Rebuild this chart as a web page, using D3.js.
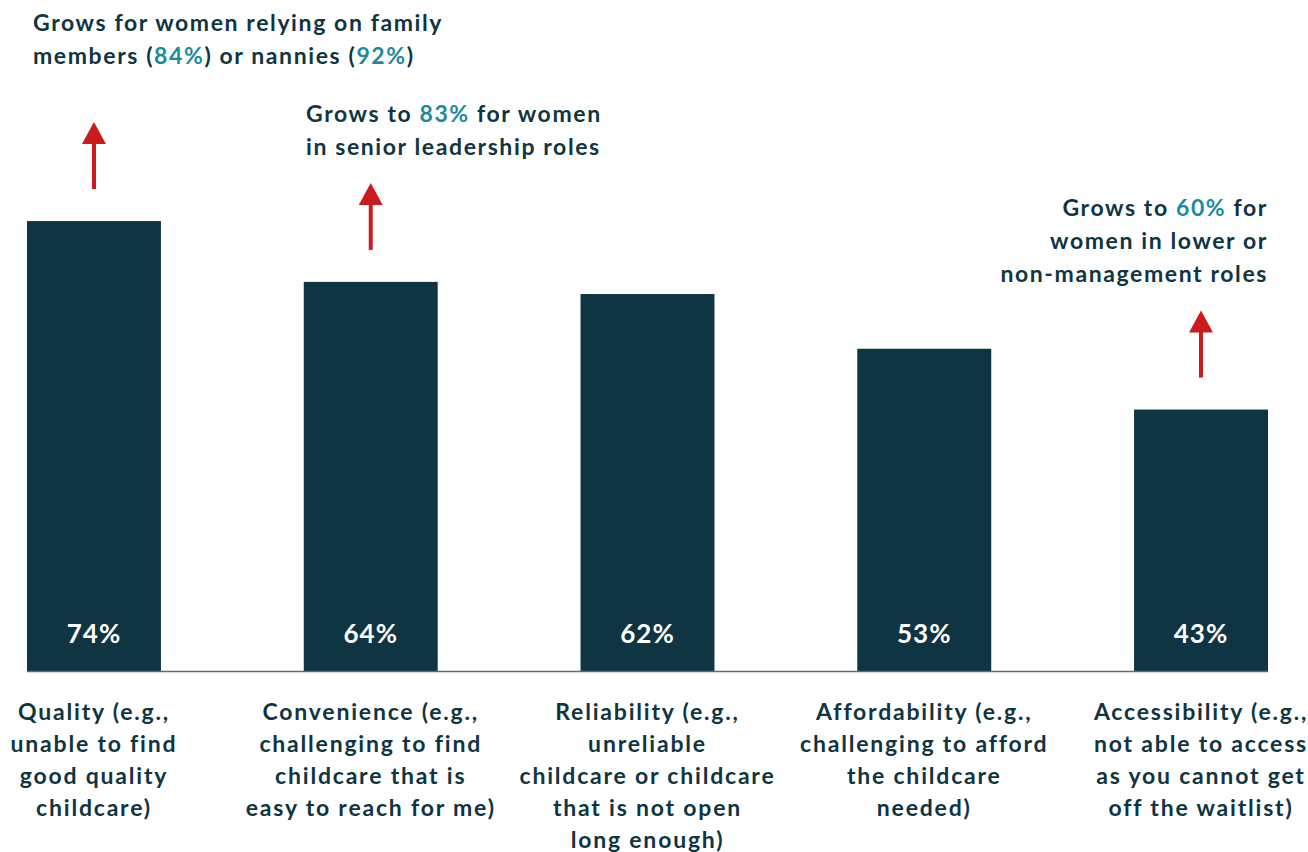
<!DOCTYPE html>
<html><head><meta charset="utf-8">
<script src="https://cdn.jsdelivr.net/npm/d3@7"></script>
<style>
html,body{margin:0;padding:0;background:#fff;}
svg{display:block;font-family:Lato,"Open Sans",sans-serif;}
</style></head>
<body>
<script>
const categories = ["Quality","Convenience","Reliability","Affordability","Accessibility"];
const values = [74, 64, 62, 53, 43];
const valueLabels = ["74%","64%","62%","53%","43%"];
const categoryLabels = [
  ["Quality (e.g.,","unable to find","good quality","childcare)"],
  ["Convenience (e.g.,","challenging to find","childcare that is","easy to reach for me)"],
  ["Reliability (e.g.,","unreliable","childcare or childcare","that is not open","long enough)"],
  ["Affordability (e.g.,","challenging to afford","the childcare","needed)"],
  ["Accessibility (e.g.,","not able to access","as you cannot get","off the waitlist)"]
];
// annotations: category, lines of [text, highlight?] segments
const annotationCats = ["Quality","Convenience","Accessibility"];
const annotationLines = [
  [[["Grows for women relying on family",0]],[["members (",0],["84%",1],[") or nannies (",0],["92%",1],[")",0]]],
  [[["Grows to ",0],["83%",1],[" for women",0]],[["in senior leadership roles",0]]],
  [[["Grows to ",0],["60%",1],[" for",0]],[["women in lower or",0]],[["non-management roles",0]]]
];

const W = 1308, H = 852;
const dark = "#0f3542", teal = "#1d8a9b", red = "#cc1b1f";
const svg = d3.select("body").append("svg").attr("width", W).attr("height", H);

const x = d3.scaleBand().domain(categories).range([27, 1268]).paddingInner(0.516).paddingOuter(0);
const y = d3.scaleLinear().domain([0, 100]).range([671, 63]);

// bars
svg.selectAll("rect.bar").data(categories).join("rect")
  .attr("x", d => x(d)).attr("width", x.bandwidth())
  .attr("y", (d,i) => y(values[i])).attr("height", (d,i) => y(0) - y(values[i]))
  .attr("fill", dark);

// baseline
svg.append("line").attr("x1", 27).attr("x2", 1268).attr("y1", y(0)+0.5).attr("y2", y(0)+0.5)
  .attr("stroke", "#4f7280").attr("stroke-width", 1.5);

// value labels
svg.selectAll("text.val").data(categories).join("text")
  .attr("x", d => x(d) + x.bandwidth()/2).attr("y", 643)
  .attr("text-anchor", "middle").attr("fill", "#fff")
  .attr("font-size", 26).attr("font-weight", 700).attr("letter-spacing", 1)
  .text((d,i) => valueLabels[i]);

// category labels
categories.forEach((c, i) => {
  const t = svg.append("text").attr("text-anchor", "middle").attr("fill", dark)
    .attr("font-size", 23).attr("font-weight", 700).attr("letter-spacing", 1.8);
  categoryLabels[i].forEach((ln, j) => {
    t.append("tspan").attr("x", x(c) + x.bandwidth()/2).attr("y", 720 + j*32).text(ln);
  });
});

// arrows
annotationCats.forEach((c, k) => {
  const i = categories.indexOf(c);
  const cx = x(c) + x.bandwidth()/2;
  const bottom = y(values[i]) - 32;
  const top = bottom - 67;
  svg.append("line").attr("x1", cx).attr("x2", cx).attr("y1", bottom).attr("y2", top + 18)
    .attr("stroke", red).attr("stroke-width", 4);
  svg.append("path").attr("d", `M${cx},${top} L${cx-12},${top+22} L${cx+12},${top+22} Z`).attr("fill", red);
});

// annotation texts
const annPos = [
  {x: 33, y: 31, anchor: "start"},
  {x: 306, y: 122, anchor: "start"},
  {x: 1268, y: 216, anchor: "end"}
];
annotationLines.forEach((lines, k) => {
  const p = annPos[k];
  lines.forEach((segs, j) => {
    const t = svg.append("text").attr("x", p.x).attr("y", p.y + j*33)
      .attr("text-anchor", p.anchor).attr("font-size", 23).attr("font-weight", 700)
      .attr("letter-spacing", 1.6).attr("fill", dark);
    segs.forEach(s => t.append("tspan").attr("fill", s[1] ? teal : dark).text(s[0]));
  });
});
</script>
</body></html>
